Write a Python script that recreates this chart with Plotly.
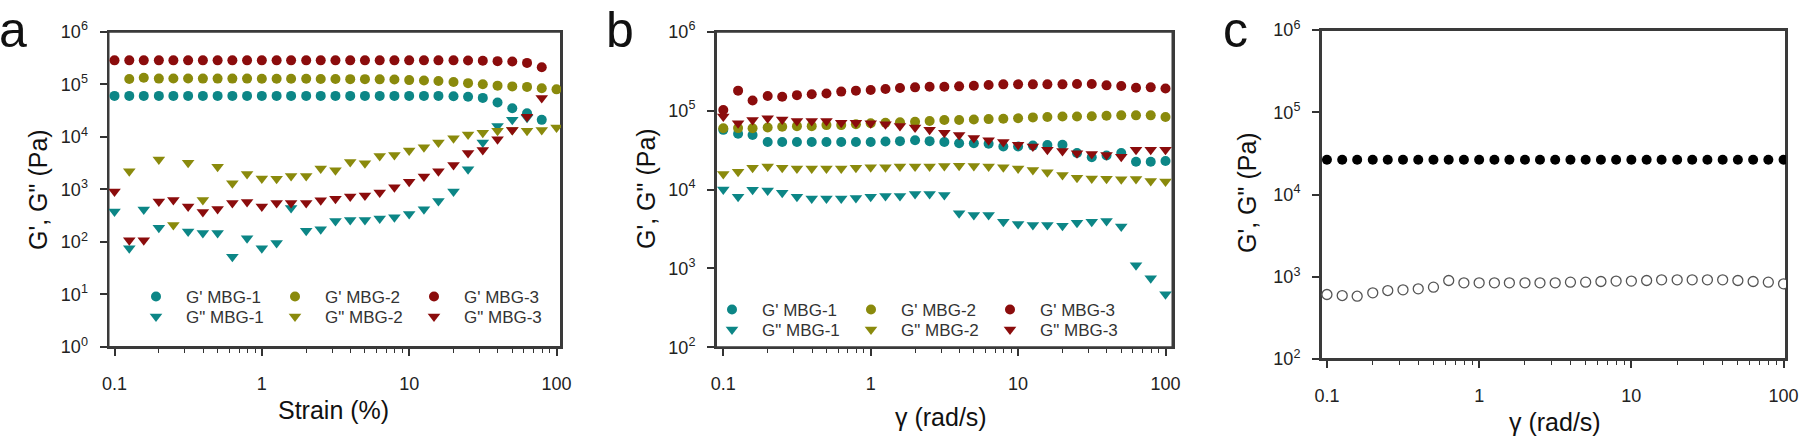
import plotly.graph_objects as go

FONT = "Liberation Sans, Arial, sans-serif"
TEAL = "#0c8686"
OLIVE = "#8a8a0c"
MAROON = "#8b0c0c"

# ---------------- data ----------------
# panel a : amplitude sweep
strain = [0.1, 0.126, 0.158, 0.2, 0.251, 0.316, 0.398, 0.501, 0.631, 0.794,
          1.0, 1.26, 1.58, 2.0, 2.51, 3.16, 3.98, 5.01, 6.31, 7.94,
          10, 12.6, 15.8, 20, 25.1, 31.6, 39.8, 50.1, 63.1, 79.4, 100]
a_gp1 = [6.0e4, 6.0e4, 6.0e4, 6.0e4, 6.0e4, 6.0e4, 6.0e4, 6.0e4, 6.0e4, 6.0e4,
         6.0e4, 6.0e4, 6.0e4, 6.0e4, 6.0e4, 6.0e4, 6.0e4, 6.0e4, 6.0e4, 6.0e4,
         6.0e4, 6.0e4, 6.0e4, 5.9e4, 5.8e4, 5.5e4, 4.5e4, 3.5e4, 2.8e4, 2.1e4, None]
a_gp2 = [None, 1.26e5, 1.33e5, 1.28e5, 1.29e5, 1.29e5, 1.28e5, 1.28e5, 1.28e5, 1.28e5,
         1.27e5, 1.27e5, 1.27e5, 1.27e5, 1.26e5, 1.26e5, 1.25e5, 1.25e5, 1.24e5, 1.23e5,
         1.2e5, 1.18e5, 1.15e5, 1.1e5, 1.05e5, 1.0e5, 9.4e4, 9.1e4, 8.9e4, 8.4e4, 8.0e4]
a_gp3 = [2.85e5, 2.85e5, 2.85e5, 2.85e5, 2.85e5, 2.85e5, 2.85e5, 2.85e5, 2.85e5, 2.85e5,
         2.85e5, 2.85e5, 2.85e5, 2.85e5, 2.85e5, 2.85e5, 2.85e5, 2.85e5, 2.85e5, 2.85e5,
         2.85e5, 2.85e5, 2.85e5, 2.85e5, 2.83e5, 2.8e5, 2.75e5, 2.7e5, 2.55e5, 2.1e5, None]
a_gpp1 = [380, 76, 415, 185, None, 158, 148, 148, 52, 117,
          76, 95, 440, 163, 175, 250, 262, 262, 280, 295,
          340, 420, 600, 910, 2400, 7800, 1.6e4, 2.1e4, 2.3e4, None, None]
a_gpp2 = [None, 2200, None, 3700, 210, 3200, 630, 2700, 1300, 1950,
          1600, 1590, 1800, 1800, 2500, 2300, 3300, 3150, 4300, 4500,
          5500, 6300, 7800, 9400, 1.1e4, 1.2e4, 1.3e4, 1.35e4, 1.3e4, 1.35e4, 1.5e4]
a_gpp3 = [910, 107, 107, 590, 630, 470, 370, 425, 550, 575,
          470, 550, 550, 550, 620, 660, 730, 760, 870, 1100,
          1400, 1750, 2200, 2900, 4900, 5600, 9000, 1.35e4, 2.4e4, 5.5e4, None]

# panel b : frequency sweep
freq = [0.1, 0.126, 0.158, 0.2, 0.251, 0.316, 0.398, 0.501, 0.631, 0.794,
        1.0, 1.26, 1.58, 2.0, 2.51, 3.16, 3.98, 5.01, 6.31, 7.94,
        10, 12.6, 15.8, 20, 25.1, 31.6, 39.8, 50.1, 63.1, 79.4, 100]
b_gp1 = [5.7e4, 5.1e4, 4.9e4, 4.0e4, 4.0e4, 4.0e4, 4.0e4, 4.0e4, 4.0e4, 4.0e4,
         4.0e4, 4.05e4, 4.1e4, 4.2e4, 4.1e4, 4.0e4, 3.85e4, 3.85e4, 3.8e4, 3.5e4,
         3.5e4, 3.6e4, 3.66e4, 3.7e4, 2.9e4, 2.56e4, 2.7e4, 2.9e4, 2.25e4, 2.25e4, 2.3e4]
b_gp2 = [5.96e4, 6.0e4, 5.96e4, 6.1e4, 6.25e4, 6.35e4, 6.35e4, 6.55e4, 6.55e4, 6.7e4,
         6.9e4, 7.0e4, 7.1e4, 7.2e4, 7.4e4, 7.6e4, 7.6e4, 7.7e4, 7.8e4, 7.9e4,
         8.0e4, 8.2e4, 8.3e4, 8.4e4, 8.4e4, 8.5e4, 8.6e4, 8.7e4, 8.7e4, 8.7e4, 8.3e4]
b_gp3 = [1.02e5, 1.79e5, 1.34e5, 1.53e5, 1.5e5, 1.57e5, 1.61e5, 1.65e5, 1.74e5, 1.79e5,
         1.82e5, 1.88e5, 1.93e5, 1.97e5, 2.01e5, 2.01e5, 2.03e5, 2.07e5, 2.11e5, 2.15e5,
         2.15e5, 2.15e5, 2.15e5, 2.15e5, 2.17e5, 2.17e5, 2.09e5, 2.05e5, 1.95e5, 1.97e5, 1.91e5]
b_gpp1 = [1.0e4, 8.1e3, 9.9e3, 9.7e3, 9.1e3, 8.1e3, 7.7e3, 7.7e3, 7.7e3, 7.8e3,
          8.1e3, 8.3e3, 8.3e3, 8.8e3, 8.8e3, 8.5e3, 5.0e3, 4.75e3, 4.75e3, 3.9e3,
          3.65e3, 3.55e3, 3.55e3, 3.47e3, 3.8e3, 3.9e3, 4.0e3, 3.4e3, 1.1e3, 750, 470]
b_gpp2 = [1.57e4, 1.68e4, 1.89e4, 1.95e4, 1.89e4, 1.85e4, 1.85e4, 1.85e4, 1.85e4, 1.89e4,
          1.91e4, 1.91e4, 1.95e4, 1.95e4, 1.95e4, 1.98e4, 2.0e4, 1.98e4, 1.95e4, 1.91e4,
          1.85e4, 1.77e4, 1.65e4, 1.53e4, 1.41e4, 1.38e4, 1.37e4, 1.35e4, 1.36e4, 1.28e4, 1.26e4]
b_gpp3 = [8.4e4, 6.9e4, 7.6e4, 8.0e4, 7.7e4, 7.4e4, 7.4e4, 7.4e4, 7.0e4, 7.0e4,
          6.9e4, 6.7e4, 6.4e4, 6.1e4, 5.7e4, 5.25e4, 4.9e4, 4.5e4, 4.2e4, 4.0e4,
          3.7e4, 3.5e4, 3.2e4, 3.08e4, 2.87e4, 2.82e4, 2.73e4, 2.6e4, 3.2e4, 3.2e4, 3.2e4]

# panel c : frequency sweep, single sample
freq_c = [0.1, 0.126, 0.158, 0.2, 0.251, 0.316, 0.398, 0.501, 0.631, 0.794,
          1.0, 1.26, 1.58, 2.0, 2.51, 3.16, 3.98, 5.01, 6.31, 7.94,
          10, 12.6, 15.8, 20, 25.1, 31.6, 39.8, 50.1, 63.1, 79.4, 100]
c_gp = [2.65e4, 2.65e4, 2.65e4, 2.65e4, 2.65e4, 2.65e4, 2.65e4, 2.65e4, 2.65e4, 2.65e4,
        2.65e4, 2.65e4, 2.65e4, 2.65e4, 2.65e4, 2.65e4, 2.65e4, 2.65e4, 2.65e4, 2.65e4,
        2.65e4, 2.65e4, 2.65e4, 2.65e4, 2.65e4, 2.65e4, 2.65e4, 2.65e4, 2.65e4, 2.65e4, 2.65e4]
c_gpp = [608, 591, 580, 637, 680, 693, 713, 747, 900, 843,
         843, 843, 843, 843, 843, 843, 859, 859, 876, 885,
         885, 900, 917, 917, 917, 917, 917, 900, 876, 859, 820]

x_tickvals = [0.1, 1, 10, 100]
x_ticktext = ["0.1", "1", "10", "100"]
y_tickvals_a = [1, 10, 100, 1e3, 1e4, 1e5, 1e6]
y_ticktext_a = ["10<sup>0</sup>", "10<sup>1</sup>", "10<sup>2</sup>", "10<sup>3</sup>",
                "10<sup>4</sup>", "10<sup>5</sup>", "10<sup>6</sup>"]
y_tickvals_bc = [100, 1e3, 1e4, 1e5, 1e6]
y_ticktext_bc = ["10<sup>2</sup>", "10<sup>3</sup>", "10<sup>4</sup>", "10<sup>5</sup>", "10<sup>6</sup>"]
minor_vals = [m * d for d in (0.1, 1, 10) for m in range(2, 10)]

Y_TITLE = "G', G\" (Pa)"
X_TITLES = ["Strain (%)", "γ (rad/s)", "γ (rad/s)"]
PANEL_LABELS = ["a", "b", "c"]

W, H = 1800, 446
fig = go.Figure()


def add(x, y, name, color, symbol, xa, ya, legend, size=10, show=True, line=None):
    mk = dict(color=color, symbol=symbol, size=size, line=line or dict(width=0))
    fig.add_trace(go.Scatter(x=x, y=y, mode="markers", name=name, marker=mk,
                             xaxis=xa, yaxis=ya, legend=legend, showlegend=show))


# panel a
add(strain, a_gp1, "G' MBG-1", TEAL, "circle", "x", "y", "legend")
add(strain, a_gpp1, 'G" MBG-1', TEAL, "triangle-down", "x", "y", "legend2", 11)
add(strain, a_gp2, "G' MBG-2", OLIVE, "circle", "x", "y", "legend")
add(strain, a_gpp2, 'G" MBG-2', OLIVE, "triangle-down", "x", "y", "legend2", 11)
add(strain, a_gp3, "G' MBG-3", MAROON, "circle", "x", "y", "legend")
add(strain, a_gpp3, 'G" MBG-3', MAROON, "triangle-down", "x", "y", "legend2", 11)
# panel b
add(freq, b_gp1, "G' MBG-1", TEAL, "circle", "x2", "y2", "legend3")
add(freq, b_gpp1, 'G" MBG-1', TEAL, "triangle-down", "x2", "y2", "legend4", 11)
add(freq, b_gp2, "G' MBG-2", OLIVE, "circle", "x2", "y2", "legend3")
add(freq, b_gpp2, 'G" MBG-2', OLIVE, "triangle-down", "x2", "y2", "legend4", 11)
add(freq, b_gp3, "G' MBG-3", MAROON, "circle", "x2", "y2", "legend3")
add(freq, b_gpp3, 'G" MBG-3', MAROON, "triangle-down", "x2", "y2", "legend4", 11)
# panel c
add(freq_c, c_gp, "G'", "#000000", "circle", "x3", "y3", "legend", 10, show=False)
add(freq_c, c_gpp, 'G"', "#ffffff", "circle", "x3", "y3", "legend", 10, show=False,
    line=dict(color="#555555", width=1.3))


def px_x(p):
    return p / W


def px_y(p):
    return 1 - p / H


axis_common = dict(type="log", showline=True, linecolor="#3a3a3a", linewidth=2, mirror=True,
                   ticks="outside", ticklen=7, tickwidth=1.6, tickcolor="#333333",
                   showgrid=False, zeroline=False, automargin=False,
                   tickfont=dict(family=FONT, size=18, color="#222222"))

xcommon = dict(axis_common, tickvals=x_tickvals, ticktext=x_ticktext, ticklabelstandoff=12,
               minor=dict(tickvals=minor_vals, ticks="outside", ticklen=4, tickwidth=1.2,
                          tickcolor="#333333"))
ycommon = dict(axis_common, ticklabelstandoff=8)

legend_common = dict(orientation="h", bgcolor="rgba(0,0,0,0)", borderwidth=0,
                     font=dict(family=FONT, size=17, color="#333333"),
                     xanchor="left", yanchor="middle", itemwidth=50,
                     entrywidth=74, entrywidthmode="pixels", itemclick=False)

fig.update_layout(
    width=W, height=H, margin=dict(l=0, r=0, t=0, b=0),
    paper_bgcolor="white", plot_bgcolor="white",
    font=dict(family=FONT, color="#222222"),
    xaxis=dict(xcommon, domain=[px_x(108.5), px_x(561)], range=[-1.0407, 2.0305], anchor="y"),
    yaxis=dict(ycommon, domain=[px_y(347), px_y(31.7)], range=[0, 6], anchor="x",
               tickvals=y_tickvals_a, ticktext=y_ticktext_a),
    xaxis2=dict(xcommon, domain=[px_x(716), px_x(1172.5)], range=[-1.0495, 2.0475], anchor="y2"),
    yaxis2=dict(ycommon, domain=[px_y(347.3), px_y(31.7)], range=[2, 6], anchor="x2",
                tickvals=y_tickvals_bc, ticktext=y_ticktext_bc),
    xaxis3=dict(xcommon, domain=[px_x(1321), px_x(1786)], range=[-1.039, 2.016], anchor="y3"),
    yaxis3=dict(ycommon, domain=[px_y(359), px_y(30)], range=[2, 6], anchor="x3",
                tickvals=y_tickvals_bc, ticktext=y_ticktext_bc),
    legend=dict(legend_common, x=px_x(126), y=px_y(297)),
    legend2=dict(legend_common, x=px_x(126), y=px_y(317)),
    legend3=dict(legend_common, x=px_x(702), y=px_y(310)),
    legend4=dict(legend_common, x=px_x(702), y=px_y(330)),
)

# frames around each plot area
for xd, yd in (("x domain", "y domain"), ("x2 domain", "y2 domain"), ("x3 domain", "y3 domain")):
    fig.add_shape(type="rect", xref=xd, yref=yd, x0=0, x1=1, y0=0, y1=1,
                  line=dict(color="#3a3a3a", width=2), layer="below")

# axis titles
title_font = dict(family=FONT, size=25, color="#111111")
for text, (cx, cy) in zip(X_TITLES, [(333, 410), (941, 417), (1555, 422)]):
    fig.add_annotation(text=text, xref="paper", yref="paper", x=px_x(cx), y=px_y(cy),
                       xanchor="center", yanchor="middle", showarrow=False, font=title_font)
for cx, cy in [(38, 190), (646, 189), (1247, 193)]:
    fig.add_annotation(text=Y_TITLE, xref="paper", yref="paper", x=px_x(cx), y=px_y(cy),
                       xanchor="center", yanchor="middle", showarrow=False, textangle=-90,
                       font=title_font)

# panel letters
for label, xp in zip(PANEL_LABELS, (-3, 604, 1221)):
    fig.add_annotation(text=label, xref="paper", yref="paper", x=px_x(xp), y=1,
                       xanchor="left", yanchor="top", showarrow=False,
                       font=dict(family=FONT, size=50, color="#111111"))

fig.write_html("out.html", config={"displayModeBar": False},
               post_script="document.body.style.margin='0px';")
